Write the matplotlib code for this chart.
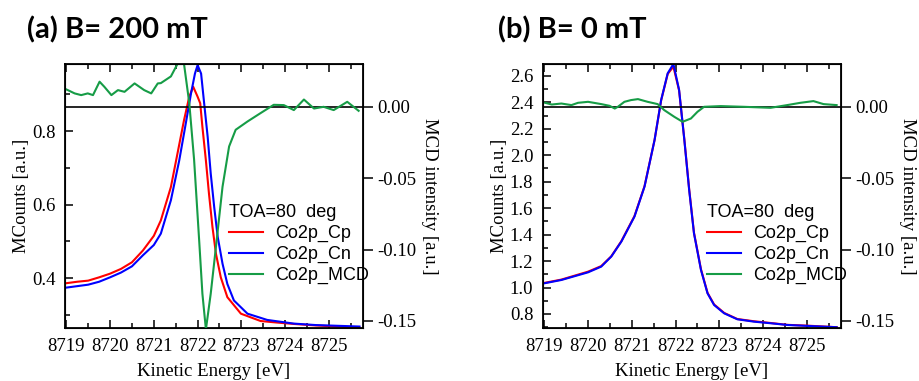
import matplotlib
matplotlib.use("Agg")
import matplotlib.pyplot as plt
from matplotlib.ticker import MultipleLocator, FormatStrFormatter

plt.rcParams['font.family'] = 'Liberation Serif'
plt.rcParams['axes.unicode_minus'] = False

# ---- (a) B = 200 mT ----
a_e_cp = [8719.0, 8719.25, 8719.5, 8719.75, 8720.0, 8720.25, 8720.5, 8720.75, 8721.0, 8721.16,
          8721.39, 8721.54, 8721.69, 8721.81, 8721.9, 8722.0, 8722.06, 8722.11, 8722.19, 8722.26,
          8722.34, 8722.42, 8722.53, 8722.68, 8722.99, 8723.44, 8723.8, 8724.2, 8724.7, 8725.2, 8725.7]
a_cp = [0.386, 0.390, 0.393, 0.402, 0.412, 0.425, 0.443, 0.475, 0.515, 0.557,
        0.648, 0.739, 0.830, 0.894, 0.921, 0.894, 0.876, 0.812, 0.720, 0.630,
        0.539, 0.466, 0.402, 0.348, 0.303, 0.283, 0.279, 0.275, 0.271, 0.268, 0.265]

a_e_cn = [8719.0, 8719.25, 8719.5, 8719.75, 8720.0, 8720.25, 8720.5, 8720.75, 8721.0, 8721.16,
          8721.39, 8721.58, 8721.73, 8721.85, 8721.94, 8722.0, 8722.08, 8722.15, 8722.23, 8722.3,
          8722.38, 8722.46, 8722.57, 8722.68, 8722.83, 8723.14, 8723.59, 8724.2, 8724.7, 8725.2, 8725.7]
a_cn = [0.374, 0.378, 0.382, 0.390, 0.402, 0.415, 0.432, 0.462, 0.490, 0.521,
        0.612, 0.720, 0.821, 0.903, 0.957, 0.980, 0.957, 0.876, 0.785, 0.685,
        0.593, 0.512, 0.439, 0.384, 0.339, 0.303, 0.286, 0.276, 0.272, 0.270, 0.268]

a_e_mcd = [8719.0, 8719.19, 8719.34, 8719.49, 8719.61, 8719.76, 8719.87, 8720.03, 8720.18, 8720.33,
           8720.56, 8720.78, 8720.94, 8721.09, 8721.16, 8721.39, 8721.54, 8721.69, 8721.81, 8721.92,
           8722.04, 8722.11, 8722.19, 8722.3, 8722.42, 8722.57, 8722.72, 8722.87, 8723.14, 8723.44,
           8723.74, 8723.97, 8724.2, 8724.43, 8724.66, 8724.88, 8725.11, 8725.42, 8725.68]
a_mcd = [0.0122, 0.0094, 0.0082, 0.0094, 0.0082, 0.0176, 0.0140, 0.0082, 0.0117, 0.0105,
         0.0164, 0.0117, 0.0094, 0.0164, 0.0166, 0.0213, 0.0300, 0.0300, 0.0026, -0.0370,
         -0.0956, -0.1310, -0.1560, -0.1310, -0.0980, -0.0560, -0.0278, -0.0161, -0.0103, -0.0044,
         0.0014, 0.0012, -0.0023, 0.0051, -0.0012, 0.0, -0.0023, 0.0035, -0.0028]

# ---- (b) B = 0 mT ----
b_e = [8719.0, 8719.39, 8720.0, 8720.3, 8720.53, 8720.76, 8721.06, 8721.29, 8721.52, 8721.67,
       8721.82, 8721.95, 8722.08, 8722.2, 8722.31, 8722.42, 8722.58, 8722.73, 8722.88, 8723.11,
       8723.41, 8723.79, 8724.17, 8724.55, 8725.0, 8725.68]
b_cp = [1.035, 1.060, 1.120, 1.162, 1.236, 1.350, 1.540, 1.766, 2.116, 2.415,
        2.615, 2.670, 2.490, 2.120, 1.745, 1.415, 1.138, 0.960, 0.872, 0.808,
        0.762, 0.745, 0.732, 0.718, 0.712, 0.700]
b_cn = [1.032, 1.057, 1.115, 1.158, 1.234, 1.347, 1.536, 1.763, 2.116, 2.418,
        2.620, 2.690, 2.494, 2.116, 1.738, 1.410, 1.133, 0.956, 0.868, 0.805,
        0.760, 0.742, 0.730, 0.717, 0.710, 0.700]

b_e_mcd = [8719.02, 8719.17, 8719.39, 8719.62, 8719.77, 8720.0, 8720.3, 8720.49, 8720.61, 8720.68,
           8720.83, 8720.98, 8721.14, 8721.36, 8721.59, 8721.74, 8721.97, 8722.16, 8722.35, 8722.5,
           8722.65, 8723.03, 8723.56, 8724.17, 8724.55, 8724.85, 8725.15, 8725.38, 8725.68]
b_mcd = [0.0028, 0.0016, 0.0023, 0.0012, 0.0028, 0.0035, 0.0019, 0.0007, -0.0012, 0.0,
         0.0035, 0.0047, 0.0054, 0.0035, 0.0019, -0.0023, -0.0070, -0.0105, -0.0082, -0.0035,
         0.0, 0.0005, 0.0, -0.0007, 0.0012, 0.0028, 0.0040, 0.0019, 0.0012]

panels = [
    ("(a) B= 200 mT", a_e_cp, a_cp, a_e_cn, a_cn, a_e_mcd, a_mcd, (0.264, 0.983)),
    ("(b) B= 0 mT", b_e, b_cp, b_e, b_cn, b_e_mcd, b_mcd, (0.694, 2.69)),
]

sans = 'Liberation Sans'
RED, BLUE, GREEN = '#ff0000', '#0000ff', '#169c46'

fig = plt.figure(figsize=(9.2, 3.81), dpi=100)
lefts = [65 / 920, 543 / 920]
title_x = [27 / 920, 498 / 920]

for i, (title, e1, cp, e2, cn, e3, mcd, ylim) in enumerate(panels):
    ax = fig.add_axes([lefts[i], 53 / 381, 298 / 920, 264 / 381])
    ax.plot(e1, cp, color=RED, lw=1.5, label='Co2p_Cp')
    ax.plot(e2, cn, color=BLUE, lw=1.5, label='Co2p_Cn')
    ax.set_xlim(8718.97, 8725.78)
    ax.set_ylim(*ylim)
    ax.xaxis.set_major_locator(MultipleLocator(1))
    ax.xaxis.set_minor_locator(MultipleLocator(0.5))
    ax.yaxis.set_major_locator(MultipleLocator(0.2))
    ax.yaxis.set_minor_locator(MultipleLocator(0.1))
    ax.tick_params(which='both', direction='in', top=True, right=False, width=1.1,
                   labelsize=13.5, pad=7)
    ax.tick_params(which='major', length=6)
    ax.tick_params(which='minor', length=3.5)
    for s in ax.spines.values():
        s.set_linewidth(1.3)
    ax.set_xlabel('Kinetic Energy [eV]', fontsize=13.5, labelpad=6)
    ax.set_ylabel('MCounts [a.u.]', fontsize=13.5, labelpad=1)

    ax2 = ax.twinx()
    ax2.axhline(0, color='black', lw=1.2)
    ax2.plot(e3, mcd, color=GREEN, lw=1.5, label='Co2p_MCD')
    ax2.set_ylim(-0.155, 0.030)
    ax2.yaxis.set_major_locator(MultipleLocator(0.05))
    ax2.yaxis.set_major_formatter(FormatStrFormatter('%.2f'))
    ax2.tick_params(axis='y', direction='out', length=7, width=1.1, labelsize=13.5, pad=3)
    ax2.set_ylabel('MCD intensity [a.u.]', fontsize=13.5, rotation=-90, labelpad=16)

    h1, l1 = ax.get_legend_handles_labels()
    h2, l2 = ax2.get_legend_handles_labels()
    ax2.legend(h1 + h2, l1 + l2, title='TOA=80  deg', loc='upper left',
               bbox_to_anchor=(0.55, 0.47), frameon=False, borderpad=0, borderaxespad=0,
               labelspacing=0.22, handlelength=1.9, handletextpad=0.65,
               prop={'family': sans, 'size': 13},
               title_fontproperties={'family': sans, 'size': 13}, alignment='left')

    fig.text(title_x[i], 1 - 38 / 381, title, family='Lato', fontweight='bold',
             fontsize=21, va='baseline', ha='left')

fig.savefig('out.png', dpi=100)
